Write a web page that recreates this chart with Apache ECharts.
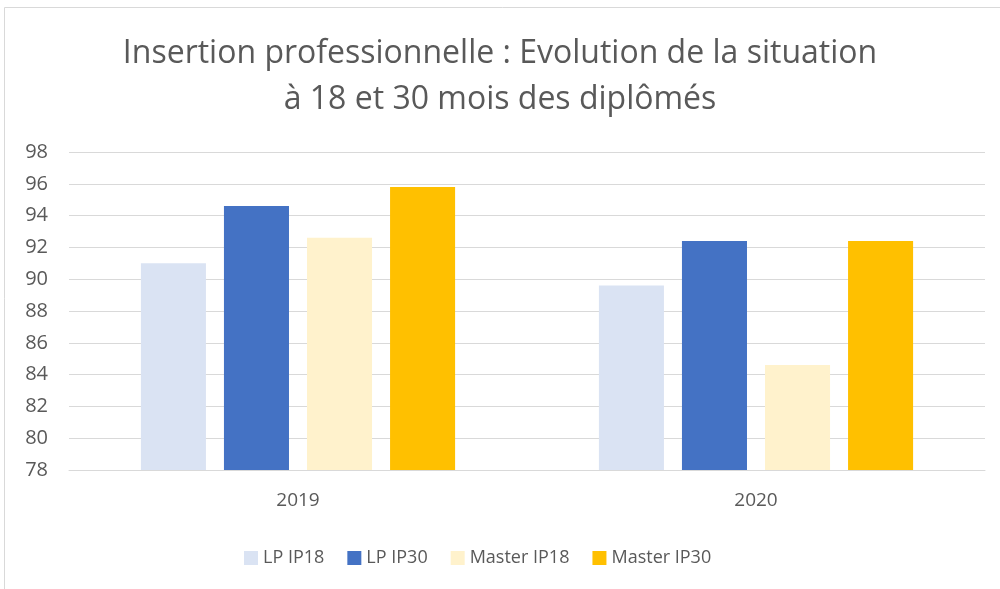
<!DOCTYPE html>
<html><head><meta charset="utf-8">
<script src="https://cdn.jsdelivr.net/npm/echarts@6/dist/echarts.min.js"></script>
<style>html,body{margin:0;padding:0;background:#fff}#c{width:1000px;height:589px}</style>
</head><body><div id="c"></div>
<script>
const titleLines = ["Insertion professionnelle : Evolution de la situation", "à 18 et 30 mois des diplômés"];
const categories = ["2019", "2020"];
const seriesNames = ["LP IP18", "LP IP30", "Master IP18", "Master IP30"];
const lpIP18 = [91.0, 89.6];
const lpIP30 = [94.6, 92.4];
const masterIP18 = [92.6, 84.6];
const masterIP30 = [95.8, 92.4];
const colors = ["#dae3f3", "#4472c4", "#fff2cc", "#ffc000"];
const values = [lpIP18, lpIP30, masterIP18, masterIP30];
const font = "'Open Sans', 'Noto Sans', sans-serif";

const chart = echarts.init(document.getElementById('c'));
chart.setOption({
  animation: false,
  textStyle: { fontFamily: font },
  graphic: [{ type: 'rect', shape: { x: 4.5, y: 7.5, width: 1000, height: 600 }, style: { fill: null, stroke: '#d9d9d9', lineWidth: 1 }, silent: true }],
  title: {
    text: titleLines.join('\n'),
    left: 'center', top: 26,
    textStyle: { fontFamily: font, fontSize: 32, fontWeight: 'normal', color: '#595959', lineHeight: 46 }
  },
  legend: {
    data: seriesNames,
    top: 544, left: 239,
    icon: 'rect', itemWidth: 14, itemHeight: 14, itemGap: 23,
    textStyle: { fontFamily: font, fontSize: 18, color: '#595959' }
  },
  grid: { left: 69, right: 15, top: 152, bottom: 119, containLabel: false },
  xAxis: {
    type: 'category', data: categories,
    axisLine: { lineStyle: { color: '#d9d9d9' } },
    axisTick: { show: false },
    axisLabel: { fontSize: 19, color: '#595959', margin: 21, fontFamily: font }
  },
  yAxis: {
    type: 'value', min: 78, max: 98, interval: 2,
    axisLine: { show: false }, axisTick: { show: false },
    splitLine: { lineStyle: { color: '#d9d9d9', width: 1 } },
    axisLabel: { fontSize: 20, color: '#595959', margin: 21, fontFamily: font }
  },
  series: seriesNames.map((n, i) => ({
    name: n, type: 'bar', data: values[i],
    itemStyle: { color: colors[i] },
    barGap: '27.7%', barCategoryGap: '31.4%'
  }))
});
</script></body></html>
